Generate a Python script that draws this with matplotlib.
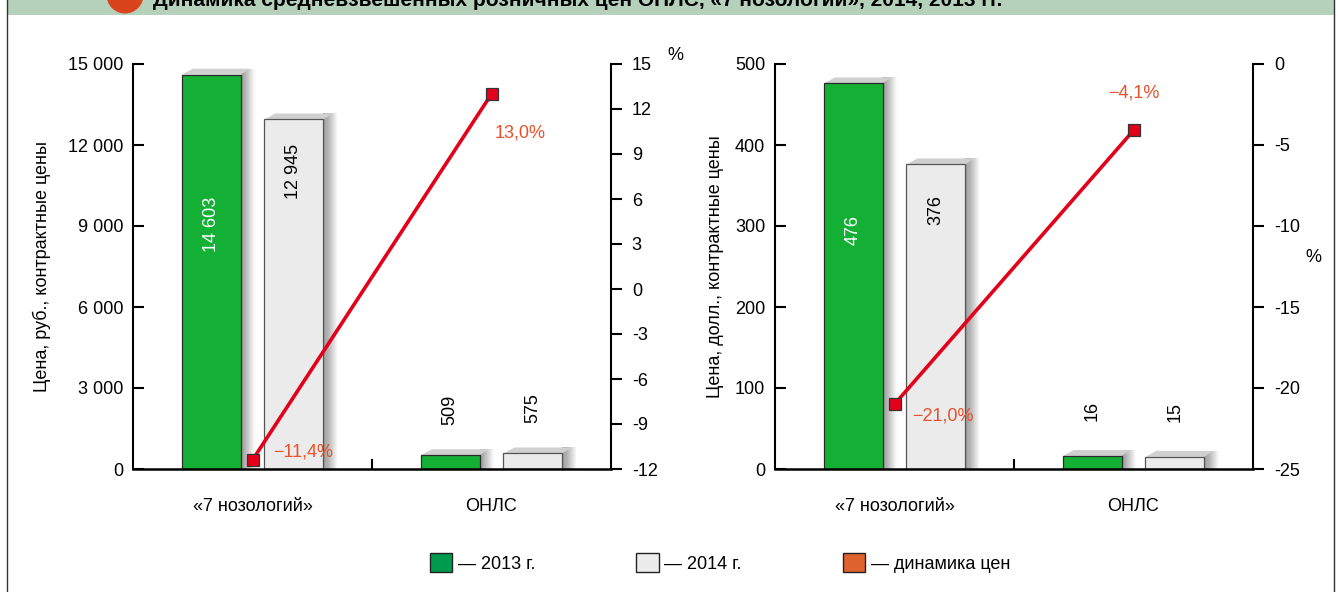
import matplotlib
matplotlib.use("Agg")
import matplotlib.pyplot as plt
from matplotlib.patches import Patch, Rectangle, Ellipse

plt.rcParams['font.family'] = ['Liberation Sans', 'DejaVu Sans']

# данные
categories = ['«7 нозологий»', 'ОНЛС']
rub_2013 = [14603, 509]
rub_2014 = [12945, 575]
rub_change = [-11.4, 13.0]
usd_2013 = [476, 16]
usd_2014 = [376, 15]
usd_change = [-21.0, -4.1]

rub_ticks = [0, 3000, 6000, 9000, 12000, 15000]
rub_pct_ticks = [-12, -9, -6, -3, 0, 3, 6, 9, 12, 15]
usd_ticks = [0, 100, 200, 300, 400, 500]
usd_pct_ticks = [-25, -20, -15, -10, -5, 0]

title = 'Динамика средневзвешенных розничных цен ОНЛС, «7 нозологий», 2014, 2013 гг.'

GREEN = '#14b035'
GRAY = '#ebebeb'
RED = '#e2001a'
ORANGE = '#e8512a'
FS = 13

W, H = 1338, 592
fig = plt.figure(figsize=(W / 100, H / 100), dpi=100)


def fmt_num(v):
    return f'{v:,}'.replace(',', ' ')


def fmt_pct(v):
    s = f'{abs(v):.1f}'.replace('.', ',') + '%'
    return ('−' + s) if v < 0 else s


def shade_bar(ax, xl, xr, h, ymax, px_x):
    # тень справа и сверху (псевдо-3D)
    sx = 15 * px_x
    ox = 11 * px_x
    oy = 6 / 405 * ymax
    n = 14
    for i in range(n):
        x0 = xr + sx * i / n
        x1 = xr + sx * (i + 1) / n
        g = 0.58 + 0.42 * (i + 0.5) / n
        ax.fill([x0, x1, x1, x0], [0, 0, h + oy, h + oy], color=(g, g, g), lw=0, zorder=1)
    ax.fill([xl, xl + ox, xr + sx * 0.6, xr], [h, h + oy, h + oy, h],
            color='#d0d0d0', lw=0, zorder=1)


def draw_panel(left, vals1, vals2, pct, yticks, pticks, ylabel, ylab_x, lab_offsets):
    ax = fig.add_axes([left / W, (H - 469) / H, 478 / W, 405 / H])
    x = range(len(categories))
    w = 0.246
    off = 0.173
    ymax = yticks[-1]
    px_x = 2 / 478
    for i in x:
        shade_bar(ax, i - off - w / 2, i - off + w / 2, vals1[i], ymax, px_x)
        shade_bar(ax, i + off - w / 2, i + off + w / 2, vals2[i], ymax, px_x)
    ax.bar([i - off for i in x], vals1, w, color=GREEN, edgecolor='#2a2a2a', lw=0.9, zorder=2)
    ax.bar([i + off for i in x], vals2, w, color=GRAY, edgecolor='#555555', lw=0.9, zorder=2)

    for i in x:
        for xc, v, col, frac in [(i - off, vals1[i], 'white', 0.62), (i + off, vals2[i], 'black', 0.85)]:
            if v > ymax * 0.3:
                ax.text(xc, v * frac, fmt_num(v), rotation=90, ha='center', va='center',
                        color=col, fontsize=FS, zorder=3)
            else:
                ax.annotate(fmt_num(v), (xc, v), xytext=(0, 45), textcoords='offset pixels',
                            rotation=90, ha='center', va='center', fontsize=FS, zorder=3)

    ax.set_xlim(-0.5, 1.5)
    ax.set_ylim(0, ymax)
    ax.set_yticks(yticks, [fmt_num(v) for v in yticks])
    ax.set_xticks(list(x), categories)
    ax.set_xticks([0.5], minor=True)
    ax.tick_params(axis='y', direction='in', length=8, width=1.5, pad=7, labelsize=FS)
    ax.tick_params(axis='x', which='major', length=0, pad=21, labelsize=FS)
    ax.tick_params(axis='x', which='minor', direction='in', length=7, width=1.5)
    for s in ['top', 'right']:
        ax.spines[s].set_visible(False)
    ax.spines['left'].set_linewidth(1.5)
    ax.spines['bottom'].set_linewidth(1.8)
    ax.text(ylab_x, 0.5, ylabel, rotation=90, ha='center', va='center',
            fontsize=FS, transform=ax.transAxes)

    ax2 = ax.twinx()
    ax2.plot(list(x), pct, color=RED, lw=2.6, marker='s', markersize=8.5,
             markerfacecolor=RED, markeredgecolor='#333333', markeredgewidth=0.9, zorder=5)
    ax2.set_ylim(pticks[0], pticks[-1])
    ax2.set_yticks(pticks, [str(v) for v in pticks])
    ax2.tick_params(axis='y', direction='out', length=8, width=1.5, pad=7, labelsize=FS)
    for s in ['top', 'left', 'bottom']:
        ax2.spines[s].set_visible(False)
    ax2.spines['right'].set_linewidth(1.5)
    for i in x:
        dx, dy, ha = lab_offsets[i]
        ax2.annotate(fmt_pct(pct[i]), (i, pct[i]), xytext=(dx, dy), textcoords='offset pixels',
                     ha=ha, va='center', color=ORANGE, fontsize=FS, zorder=6)
    return ax, ax2


axL, axL2 = draw_panel(133, rub_2013, rub_2014, rub_change, rub_ticks, rub_pct_ticks,
                       'Цена, руб., контрактные цены', -91 / 478,
                       [(21, 8, 'left'), (3, -39, 'left')])
axR, axR2 = draw_panel(775, usd_2013, usd_2014, usd_change, usd_ticks, usd_pct_ticks,
                       'Цена, долл., контрактные цены', -60 / 478,
                       [(18, -12, 'left'), (0, 37, 'center')])

fig.text(675 / W, 1 - 55 / H, '%', ha='center', va='center', fontsize=FS)
fig.text(1313 / W, 1 - 258 / H, '%', ha='center', va='center', fontsize=FS)

# шапка и рамка
fig.add_artist(Rectangle((7 / W, 1 - 15 / H), 1327 / W, 20 / H, transform=fig.transFigure,
                         facecolor='#b5d1bb', lw=0, zorder=0))
fig.add_artist(Ellipse((125 / W, 1 + 5 / H), 37 / W, 37 / H, transform=fig.transFigure,
                       facecolor='#d9441c', lw=0, zorder=1))
fig.add_artist(Rectangle((7 / W, -0.02), 1327 / W, 1.05, transform=fig.transFigure,
                         fill=False, edgecolor='#333333', lw=1, zorder=2))
fig.text(153 / W, 1 - 6 / H, title, ha='left', va='baseline', fontsize=15, fontweight='bold', zorder=3)

handles = [Patch(facecolor='#009a4e', edgecolor='#222222'),
           Patch(facecolor='#ececec', edgecolor='#222222'),
           Patch(facecolor='#e0622e', edgecolor='#222222')]
fig.legend(handles, ['— 2013 г.', '— 2014 г.', '— динамика цен'], loc='center',
           bbox_to_anchor=(720 / W, 1 - 563 / H), ncol=3, frameon=False, fontsize=FS,
           handlelength=1.25, handleheight=1.25, handletextpad=0.3, columnspacing=5.6)

fig.savefig('out.png', dpi=100)
